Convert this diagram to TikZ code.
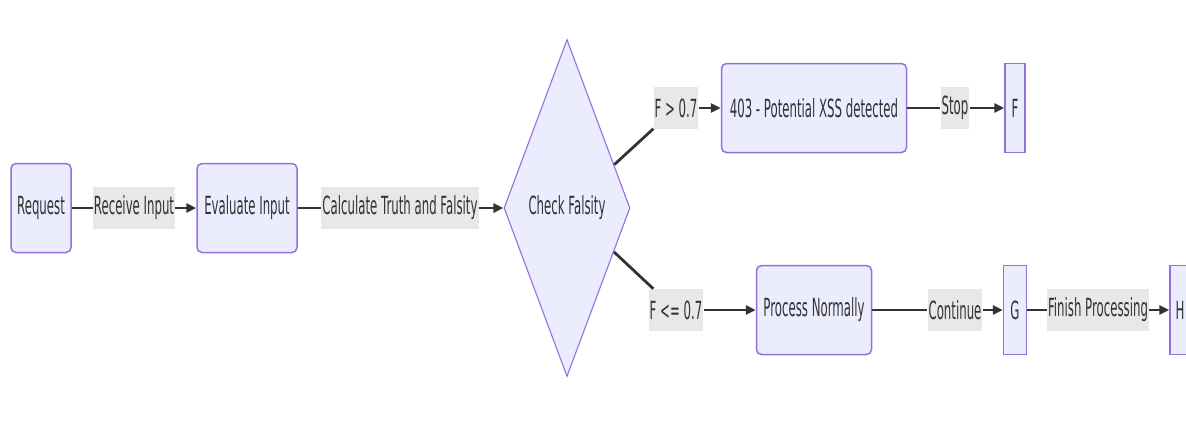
\documentclass[tikz,border=0pt]{standalone}
\usepackage{fontspec}
\setmainfont[FakeStretch=0.47]{DejaVu Sans}
\usetikzlibrary{shapes.geometric, arrows.meta}
\definecolor{nodefill}{HTML}{ECECFF}
\definecolor{nodeline}{HTML}{9370DB}
\definecolor{ink}{HTML}{333333}
\definecolor{lblfill}{HTML}{E8E8E8}
\newcommand{\flowfont}{\fontsize{25}{30}\selectfont}
\tikzstyle{box}=[rectangle, rounded corners=5pt, draw=nodeline, fill=nodefill, line width=1.5pt, minimum height=89pt, inner sep=0pt, text=ink, font=\flowfont]
\tikzstyle{sbox}=[box, rounded corners=0pt]
\tikzstyle{decision}=[diamond, draw=nodeline, fill=nodefill, line width=1.1pt, minimum width=126pt, minimum height=337pt, inner sep=0pt, text=ink, font=\flowfont]
\tikzstyle{lbl}=[rectangle, fill=lblfill, minimum height=42pt, inner xsep=1pt, inner ysep=0pt, text=ink, font=\flowfont]
\tikzstyle{edge}=[draw=ink, line width=2.8pt]
\tikzstyle{arr}=[edge, -{Triangle[length=10pt, width=9pt]}]

\begin{document}
\begin{tikzpicture}[x=1pt, y=-1pt]
      \useasboundingbox (0,0) rectangle (1186,432);

      % main row
      \node[box, minimum width=60pt] (req) at (41,208) {Request};
      \node[lbl] (recv) at (134,208) {Receive Input};
      \node[box, minimum width=100pt] (eval) at (247,208) {Evaluate Input};
      \node[lbl] (calc) at (400,208) {Calculate Truth and Falsity};
      \node[decision] (chk) at (567,208) {Check Falsity};

      % upper branch
      \node[lbl] (hi) at (676,108) {F > 0.7};
      \node[box, minimum width=185pt] (xss) at (814,108) {403 - Potential XSS detected};
      \node[lbl] (stop) at (955,108) {Stop};
      \node[sbox, minimum width=20pt] (f) at (1015,108) {F};

      % lower branch
      \node[lbl] (lo) at (676,310) {F <= 0.7};
      \node[box, minimum width=115pt] (pn) at (814,310) {Process Normally};
      \node[lbl] (cont) at (955,310) {Continue};
      \node[sbox, minimum width=23pt] (g) at (1015,310) {G};
      \node[lbl] (fin) at (1098,310) {Finish Processing};
      \node[sbox, minimum width=20pt] (h) at (1180,310) {H};

      \draw[edge] (req) -- (recv);
      \draw[arr] (recv) -- (eval);
      \draw[edge] (eval) -- (calc);
      \draw[arr] (calc) -- (chk);

      \draw[edge] (chk) -- (hi);
      \draw[arr] (hi) -- (xss);
      \draw[edge] (xss) -- (stop);
      \draw[arr] (stop) -- (f);

      \draw[edge] (chk) -- (lo);
      \draw[arr] (lo) -- (pn);
      \draw[edge] (pn) -- (cont);
      \draw[arr] (cont) -- (g);
      \draw[edge] (g) -- (fin);
      \draw[arr] (fin) -- (h);
    \end{tikzpicture}
\end{document}
